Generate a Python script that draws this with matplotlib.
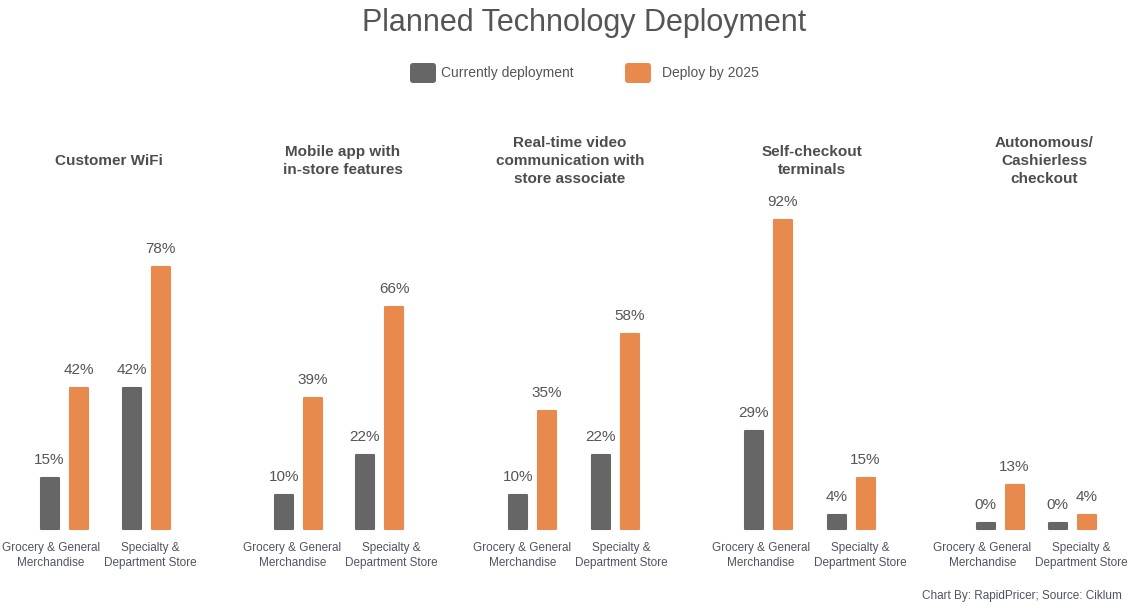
import numpy as np
import matplotlib.pyplot as plt
from matplotlib.patches import FancyBboxPatch

plt.rcParams['font.family'] = ['Liberation Sans', 'DejaVu Sans']

# data
technologies = ["Customer WiFi",
                "Mobile app with\nin-store features",
                "Real-time video\ncommunication with\nstore associate",
                "Self-checkout\nterminals",
                "Autonomous/\nCashierless\ncheckout"]
segments = ["Grocery & General\nMerchandise", "Specialty &\nDepartment Store"]
series_names = ["Currently deployment", "Deploy by 2025"]
current_grocery = [15, 10, 10, 29, 0]
current_specialty = [42, 22, 22, 4, 0]
by2025_grocery = [42, 39, 35, 92, 13]
by2025_specialty = [78, 66, 58, 15, 4]

GRAY = '#666666'
ORANGE = '#E8894E'
TEXT = '#555555'
LABEL = '#4f5460'

# layout (pixels)
W, H = 1132, 606
panel_x = [105, 339, 574, 809.5, 1036]
group_gap = [82, 81, 83, 83, 72]
title_x = [109, 343, 570, 812, 1044]
label_x = [100.5, 342, 572, 810.5, 1032]
bar_off = 29
bar_w = 18
base_px = 528.5
px_per_pct = 3.35
min_h = 1.7  # so zero values still show a stub

fig = plt.figure(figsize=(W / 100, H / 100), dpi=100)
fig.patch.set_facecolor('white')

# bars axes, y in percent
ax = fig.add_axes([0, 0, 1, 1])
ax.set_xlim(0, W)
ax.set_ylim(-(H - base_px) / px_per_pct, base_px / px_per_pct)
ax.axis('off')

# overlay axes in pixel coords for text/legend
ov = fig.add_axes([0, 0, 1, 1], zorder=3)
ov.set_xlim(0, W)
ov.set_ylim(H, 0)
ov.axis('off')
ov.patch.set_alpha(0)

groups = [(current_grocery, by2025_grocery), (current_specialty, by2025_specialty)]
colors = [GRAY, ORANGE]

for p in range(len(technologies)):
    for g, (cur, fut) in enumerate(groups):
        gx = panel_x[p] + (g - 0.5) * group_gap[p]
        for s, vals in enumerate((cur, fut)):
            v = vals[p]
            x = gx + (s - 0.5) * bar_off
            h = max(v, min_h)
            ax.bar(x, h, width=bar_w, color=colors[s], edgecolor=colors[s],
                   linewidth=1.5, joinstyle='round')
            ax.annotate(f"{v}%", (x, h), xytext=(0, 13), textcoords='offset points',
                        ha='center', va='center', fontsize=11, color=TEXT)
        ov.text(label_x[p] + (g - 0.5) * 99, 555.5, segments[g], ha='center', va='center',
                fontsize=8.5, color=LABEL, linespacing=1.4)
    ov.text(title_x[p], 161, technologies[p], ha='center', va='center',
            fontsize=11, fontweight='bold', color='#4d4d4d', linespacing=1.4)

# title
ov.text(584, 22.5, "Planned Technology Deployment", ha='center', va='center',
        fontsize=22, color=TEXT)

# legend
for (bx, tx), name, c in zip([(410, 441), (625, 662)], series_names, colors):
    ov.add_patch(FancyBboxPatch((bx, 63), 26, 20, boxstyle='round,pad=0,rounding_size=3',
                                facecolor=c, edgecolor='none'))
    ov.text(tx, 73.5, name, ha='left', va='center', fontsize=10, color=TEXT)

ov.text(1122, 596, "Chart By: RapidPricer; Source: Ciklum", ha='right', va='center',
        fontsize=8.5, color=LABEL)

fig.savefig('out.png', dpi=100, facecolor='white')
